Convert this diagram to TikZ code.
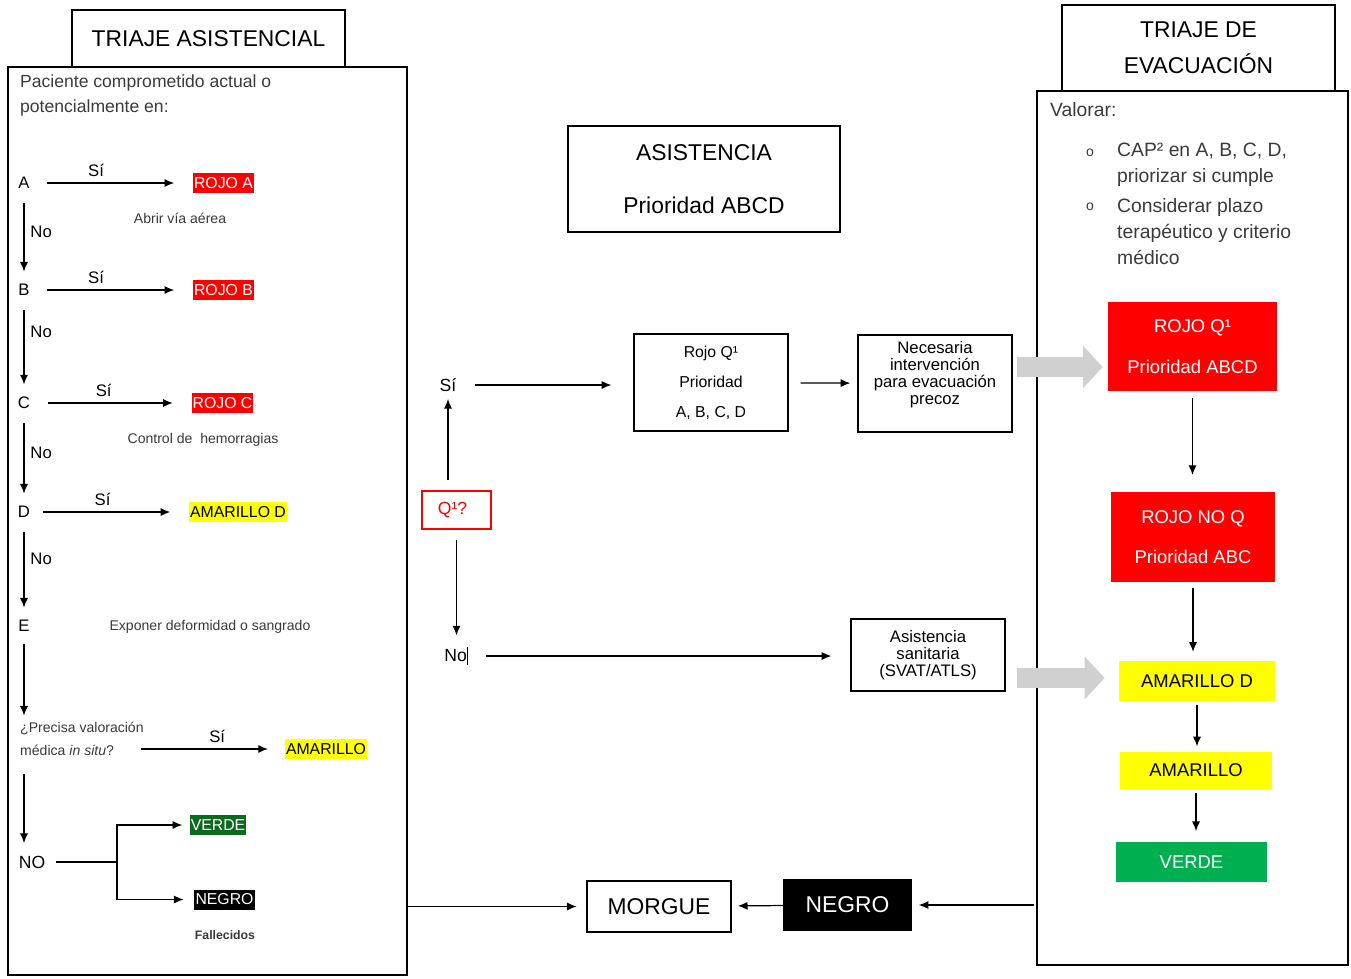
\documentclass[tikz,border=0pt]{standalone}
\usepackage{fontspec}
\setmainfont{Liberation Sans}
\usepackage{tikz}
\usetikzlibrary{shapes,arrows.meta,positioning}

\definecolor{rojo}{HTML}{FF0000}
\definecolor{amarillo}{HTML}{FFFF00}
\definecolor{verdeosc}{HTML}{0B6A1F}
\definecolor{verdecl}{HTML}{00B050}
\definecolor{gristxt}{HTML}{3A3A3A}
\definecolor{grisflecha}{HTML}{D0D0D0}
\newcommand{\fuente}[2]{\fontsize{#1}{#2}\selectfont}

\begin{document}
\begin{tikzpicture}[x=0.02cm, y=-0.02cm, >={Latex[length=5.5pt, width=4.6pt]},
    caja/.style={draw, line width=0.8pt, align=center, inner sep=0pt},
    titulo/.style={caja, font=\fuente{13}{20.5}},
    texto/.style={text=gristxt, font=\fuente{10}{14.2}, align=left},
    letra/.style={inner sep=1pt, font=\fuente{9.5}{12}},
    lab/.style={font=\fuente{9.5}{12}},
    nota/.style={text=gristxt, font=\fuente{8}{10}},
    marca/.style={inner xsep=0.6pt, inner ysep=0pt, minimum height=11.4pt, font=\fuente{9}{11}},
    nivel/.style={inner sep=0pt, align=center, font=\fuente{10.5}{23}},
    ar/.style={->, line width=0.7pt},
    si/.style={ar, shorten <=9pt, shorten >=10.5pt},
    bajar/.style={ar, shorten <=7pt, shorten >=6pt},
    baja/.style={ar, shorten <=3pt, shorten >=5pt},
    gorda/.style={line width=0.4cm, draw=grisflecha, -{Triangle[width=0.84cm, length=0.4cm]}}]
    \useasboundingbox (0,0) rectangle (1351,978);

    % triaje asistencial
    \node[caja, minimum width=7.98cm, minimum height=18.16cm] (panelasis) at (207.5,521) {};
    \node[titulo, fill=white, minimum width=5.46cm, minimum height=1.14cm] (tasis) at (208.5,38.5) {TRIAJE ASISTENCIAL};
    \node[texto, anchor=west] (paciente) at (14,95.5) {Paciente comprometido actual o\\potencialmente en:};

    \node[letra] (A) at (24,183) {A};
    \node[marca, fill=rojo, text=white] (rojoa) at (223.5,183) {ROJO A};
    \node[nota] (via) at (180,218) {Abrir vía aérea};
    \node[letra] (B) at (24,290) {B};
    \node[marca, fill=rojo, text=white] (rojob) at (223.5,290) {ROJO B};
    \node[letra] (C) at (24,403) {C};
    \node[marca, fill=rojo, text=white] (rojoc) at (222.5,403) {ROJO C};
    \node[nota] (hemo) at (203,440) {Control de\ \ hemorragias};
    \node[letra] (D) at (24,512) {D};
    \node[marca, fill=amarillo] (amad) at (238,512) {AMARILLO D};
    \node[letra] (E) at (24,626) {E};
    \node[nota] (expon) at (210,627) {Exponer deformidad o sangrado};
    \node[nota, anchor=west, align=left, font=\fuente{8}{13}] (precisa) at (14,738.5) {¿Precisa valoración\\médica \textit{in situ}?};
    \node[marca, fill=amarillo] (amal) at (326,749) {AMARILLO};
    \node[letra, font=\fuente{10}{12}] (no) at (32,862) {NO};
    \coordinate (fork) at (117,862);
    \node[marca, fill=verdeosc, text=white] (verdel) at (218,825) {VERDE};
    \node[marca, fill=black, text=white] (negrol) at (224.5,899.5) {NEGRO};
    \node[nota, font=\fuente{7}{9}\bfseries] (falle) at (225,935) {Fallecidos};

    \draw[si] (A) -- node[lab, above, pos=0.4]{Sí} (rojoa);
    \draw[si] (B) -- node[lab, above, pos=0.4]{Sí} (rojob);
    \draw[si] (C) -- node[lab, above, pos=0.45]{Sí} (rojoc);
    \draw[si, shorten <=6pt] (D) -- node[lab, above, pos=0.45]{Sí} (amad);
    \draw[bajar] (A) -- node[lab, right, pos=0.45]{No} (B);
    \draw[bajar] (B) -- node[lab, right, pos=0.35]{No} (C);
    \draw[bajar] (C) -- node[lab, right, pos=0.45]{No} (D);
    \draw[bajar] (D) -- node[lab, right, pos=0.4]{No} (E);
    \draw[ar, shorten <=6pt] (E) -- (E |- precisa.north);
    \draw[ar, shorten <=-5pt, shorten >=9.5pt] (precisa.east |- amal) -- node[lab, above]{Sí} (amal);
    \draw[bajar] (E |- precisa.south) -- (E |- no.north);
    \draw[line width=0.7pt, shorten <=5pt] (no) -- (fork);
    \draw[ar, shorten >=4pt] (fork) |- (verdel);
    \draw[ar, shorten >=6pt] (fork) |- (negrol);

    % asistencia
    \node[caja, minimum width=5.44cm, minimum height=2.12cm, font=\fuente{13}{30}] (asist) at (704,179) {ASISTENCIA\\Prioridad ABCD};
    \node[caja, draw=rojo, text=rojo, minimum width=1.38cm, minimum height=0.76cm, font=\fuente{10}{12}] (q) at (456.5,510) {Q¹?\ \,};
    \node[letra, font=\fuente{10}{12}] (sim) at (448,385) {Sí};
    \node[letra, font=\fuente{10}{12}] (nom) at (456,656) {No\rule[-2pt]{0.4pt}{10pt}};
    \node[caja, minimum width=3.08cm, minimum height=1.94cm, font=\fuente{9}{17}] (rojoq) at (711,382.5) {Rojo Q¹\\Prioridad\\A, B, C, D};
    \node[caja, minimum width=3.08cm, minimum height=1.94cm] (neces) at (935,383.5) {};
    \node[font=\fuente{9.5}{9.7}, align=center] (necestxt) at (935,375) {Necesaria\\intervención\\para evacuación\\precoz};
    \node[caja, minimum width=3.08cm, minimum height=1.44cm, font=\fuente{9.5}{9.7}] (sanit) at (928,655) {Asistencia\\sanitaria\\(SVAT/ATLS)};

    \draw[ar, shorten <=6pt, shorten >=3pt] (sim |- q.north) -- (sim);
    \draw[ar, shorten <=6pt, shorten >=5.5pt] (q.south) -- (q.south |- nom.north);
    \draw[ar, shorten <=9.5pt, shorten >=12.5pt] (sim) -- (sim -| rojoq.west);
    \draw[ar, shorten <=6.8pt, shorten >=4pt] (rojoq) -- (neces);
    \draw[ar, shorten <=9pt, shorten >=10.8pt] (nom) -- (nom -| sanit.west);

    % triaje de evacuacion
    \node[caja, minimum width=6.22cm, minimum height=17.48cm] (panelev) at (1192.5,528) {};
    \node[titulo, fill=white, minimum width=5.46cm, minimum height=1.72cm] (tevac) at (1198.5,48) {TRIAJE DE\\EVACUACIÓN};
    \node[texto, font=\fuente{11}{15}, anchor=west] (valorar) at (1044,110) {Valorar:};
    \node[texto, font=\fuente{8}{15}] (b1) at (1090,153) {o};
    \node[texto, font=\fuente{8}{15}] (b2) at (1090,207) {o};
    \node[texto, font=\fuente{11}{15}, anchor=west] (item1) at (1111,165) {CAP² en A, B, C, D,\\priorizar si cumple};
    \node[texto, font=\fuente{11}{15}, anchor=west] (item2) at (1111,231.5) {Considerar plazo\\terapéutico y criterio\\médico};

    \node[nivel, fill=rojo, text=white, minimum width=3.38cm, minimum height=1.78cm] (rq1) at (1192.5,346.5) {ROJO Q¹\\Prioridad ABCD};
    \node[nivel, fill=rojo, text=white, minimum width=3.28cm, minimum height=1.8cm] (rnoq) at (1193,537) {ROJO NO Q\\Prioridad ABC};
    \node[nivel, fill=amarillo, minimum width=3.12cm, minimum height=0.8cm] (amd) at (1197,681) {AMARILLO D};
    \node[nivel, fill=amarillo, minimum width=3.04cm, minimum height=0.74cm] (ama) at (1196,770.5) {AMARILLO};
    \node[nivel, fill=verdecl, text=white, minimum width=3.02cm, minimum height=0.8cm] (ver) at (1191.5,862) {VERDE};

    \draw[ar, shorten <=4pt, shorten >=9.5pt] (rq1.south) -- (rq1.south |- rnoq.north);
    \draw[baja] (rnoq.south) -- (rnoq.south |- amd.north);
    \draw[ar, shorten <=2pt, shorten >=3pt] (amd.south) -- (amd.south |- ama.north);
    \draw[ar, shorten <=2pt, shorten >=6pt] (ama.south) -- (ama.south |- ver.north);

    \coordinate (g1) at (1017,367);
    \coordinate (g2) at (1017,678);
    \draw[gorda, shorten >=2.8pt] (g1) -- (g1 -| rq1.west);
    \draw[gorda, shorten >=8pt] (g2) -- (g2 -| amd.west);

    % destino final
    \node[caja, minimum width=2.88cm, minimum height=1.02cm, font=\fuente{13}{15}] (morgue) at (659,906.5) {MORGUE};
    \node[caja, fill=black, text=white, minimum width=2.54cm, minimum height=1cm, font=\fuente{13}{15}] (negro) at (847.5,905) {NEGRO};
    \draw[ar, shorten >=5.5pt] (panelasis.east |- morgue) -- (morgue);
    \draw[ar, shorten >=3.5pt] (negro) -- (morgue);
    \draw[ar, shorten <=1.5pt, shorten >=4pt] (panelev.west |- negro) -- (negro);
\end{tikzpicture}
\end{document}
